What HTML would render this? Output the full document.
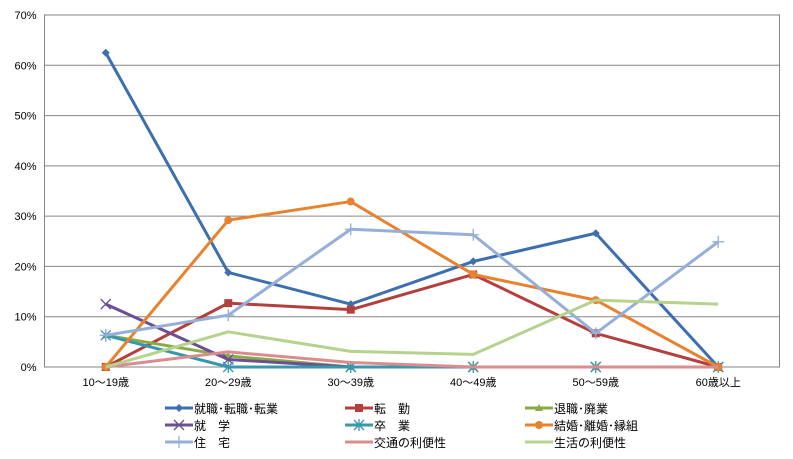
<!DOCTYPE html>
<html><head><meta charset="utf-8"><style>
body{margin:0;background:#fff;font-family:"Liberation Sans","Noto Sans CJK JP",sans-serif;}
svg text{font-family:"Liberation Sans","Noto Sans CJK JP",sans-serif;}
</style></head><body>
<svg id="c" width="793" height="454" viewBox="0 0 793 454"></svg>
<script>
const categories=["10～19歳","20～29歳","30～39歳","40～49歳","50～59歳","60歳以上"];
const yTicks=[0,10,20,30,40,50,60,70];
const seriesNames=["就職･転職･転業","転　勤","退職･廃業","就　学","卒　業","結婚･離婚･縁組","住　宅","交通の利便性","生活の利便性"];
const sJob=[62.5,18.8,12.5,21.0,26.6,0];
const sTransfer=[0,12.7,11.4,18.4,6.7,0];
const sRetire=[6.3,2.2,0,0,0,0];
const sSchool=[12.5,1.5,0,0,0,0];
const sGrad=[6.3,0,0,0,0,0];
const sMarriage=[0,29.2,32.9,18.4,13.3,0];
const sHousing=[6.3,10.3,27.4,26.3,6.7,24.9];
const sTraffic=[0,3.0,0.9,0,0,0];
const sLife=[0,7.0,3.1,2.5,13.3,12.5];
const seriesVals=[sJob,sTransfer,sRetire,sSchool,sGrad,sMarriage,sHousing,sTraffic,sLife];
const colors=["#3c6eb0","#b3403c","#8aaa48","#6c4e94","#3798ad","#e8822e","#95afd8","#d98d8f","#b5d38c"];
const markers=["diamond","square","triangle","x","star","circle","plus","none","none"];
const svg=document.getElementById('c');
const NS="http://www.w3.org/2000/svg";
const L=44.5,R=779.5,T=15,B=367;
const x=i=>L+(R-L)/categories.length*(i+0.5);
const y=v=>B-(B-T)*v/70;
function mk(tag,attrs){const e=document.createElementNS(NS,tag);for(const k in attrs)e.setAttribute(k,attrs[k]);svg.appendChild(e);return e;}
yTicks.forEach(t=>{
 const g=mk('line',{x1:L,x2:R,y1:y(t),y2:y(t),stroke:t===0?'#868686':'#868686','stroke-width':1});
 
 
 const tx=mk('text',{x:L-8,y:y(t)+4,'text-anchor':'end','font-size':11,fill:'#000'});
 tx.textContent=t+'%';
 
 
});
const fr=mk('rect',{x:L,y:T,width:R-L,height:B-T,fill:'none',stroke:'#868686'});


categories.forEach((c,i)=>{
 const tx=mk('text',{x:x(i),y:386,'text-anchor':'middle','font-size':11,fill:'#000'});
 tx.textContent=c;
 
 
});
function marker(type,cx,cy,col){
 let e;
 if(type==='diamond')e=mk('polygon',{points:`${cx},${cy-4} ${cx+4},${cy} ${cx},${cy+4} ${cx-4},${cy}`,fill:col});
 else if(type==='square')e=mk('rect',{x:cx-4,y:cy-4,width:8,height:8,fill:col});
 else if(type==='triangle')e=mk('polygon',{points:`${cx},${cy-4} ${cx+4},${cy+3} ${cx-4},${cy+3}`,fill:col});
 else if(type==='circle')e=mk('circle',{cx:cx,cy:cy,r:4,fill:col});
 else if(type==='x')e=mk('path',{d:`M${cx-5},${cy-5}L${cx+5},${cy+5}M${cx-5},${cy+5}L${cx+5},${cy-5}`,stroke:col,'stroke-width':1.3});
 else if(type==='star')e=mk('path',{d:`M${cx-5},${cy-5}L${cx+5},${cy+5}M${cx-5},${cy+5}L${cx+5},${cy-5}M${cx},${cy-6}L${cx},${cy+6}`,stroke:col,'stroke-width':1.3});
 else if(type==='plus')e=mk('path',{d:`M${cx-6},${cy}L${cx+6},${cy}M${cx},${cy-6}L${cx},${cy+6}`,stroke:col,'stroke-width':1.3});
 else return;
 
 
}
seriesVals.forEach((vals,si)=>{
 const pts=vals.map((v,i)=>x(i)+','+y(v)).join(' ');
 const pl=mk('polyline',{points:pts,fill:'none',stroke:colors[si],'stroke-width':3,'stroke-linejoin':'round'});
 
 
 vals.forEach((v,i)=>marker(markers[si],x(i),y(v),colors[si]));
});
const colX=[165,345,525],rowY=[408,425,442];
seriesNames.forEach((n,si)=>{
 const cx=colX[si%3],cy=rowY[Math.floor(si/3)];
 const ln=mk('line',{x1:cx,x2:cx+28,y1:cy,y2:cy,stroke:colors[si],'stroke-width':3});
 
 
 marker(markers[si],cx+14,cy,colors[si]);
 const tx=mk('text',{x:cx+29,y:cy+5,'font-size':12,fill:'#000'});
 tx.textContent=n;
 
 
});
</script>
</body></html>
